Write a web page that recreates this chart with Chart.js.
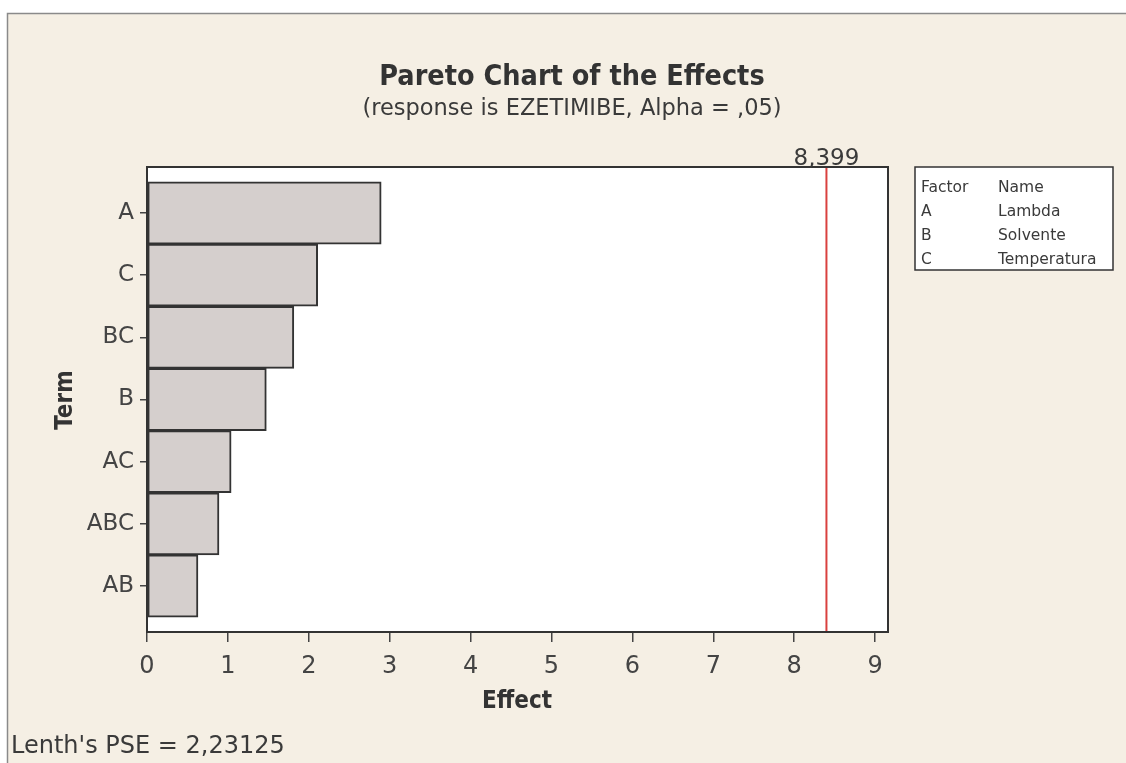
<!DOCTYPE html>
<html><head><meta charset="utf-8">
<script src="https://cdn.jsdelivr.net/npm/chart.js@4.4.0/dist/chart.umd.min.js"></script>
<style>html,body{margin:0;padding:0;background:#fff;}canvas{display:block}</style>
</head><body>
<canvas id="c" width="1126" height="763"></canvas>
<script>
// Standardized effects, sorted largest first
const terms = ['A', 'C', 'BC', 'B', 'AC', 'ABC', 'AB'];
const effects = [2.895, 2.11, 1.815, 1.475, 1.04, 0.89, 0.63];
const effectTicks = [0, 1, 2, 3, 4, 5, 6, 7, 8, 9];
const criticalEffect = 8.399;
const criticalLabel = '8,399';
const factorCodes = ['A', 'B', 'C'];
const factorNames = ['Lambda', 'Solvente', 'Temperatura'];
const lenthText = "Lenth's PSE = 2,23125";

const FONT = "'DejaVu Sans', sans-serif";
const FONT_BOLD = "'DejaVu Sans Condensed', 'DejaVu Sans', sans-serif";
const INK = '#3a3a3a';

const frame = {
  id: 'frame',
  beforeDraw(chart) {
    const { ctx, width, height, chartArea: a } = chart;
    ctx.save();
    ctx.fillStyle = '#ffffff';
    ctx.fillRect(0, 0, width, height);
    ctx.fillStyle = '#f5efe4';
    ctx.fillRect(7, 13, width - 7, height - 13);
    ctx.strokeStyle = '#8a8a8a';
    ctx.lineWidth = 1.5;
    ctx.beginPath();
    ctx.moveTo(7.5, height);
    ctx.lineTo(7.5, 13.5);
    ctx.lineTo(width, 13.5);
    ctx.stroke();
    ctx.fillStyle = '#ffffff';
    ctx.fillRect(a.left, a.top, a.right - a.left, a.bottom - a.top);
    ctx.restore();
  },
  afterDatasetsDraw(chart) {
    const { ctx, chartArea: a, scales } = chart;
    ctx.save();
    // critical effect reference line
    const xc = scales.x.getPixelForValue(criticalEffect);
    ctx.strokeStyle = '#d9413f';
    ctx.lineWidth = 2;
    ctx.beginPath();
    ctx.moveTo(xc, a.top);
    ctx.lineTo(xc, a.bottom);
    ctx.stroke();
    // plot border
    ctx.strokeStyle = '#333333';
    ctx.lineWidth = 2;
    ctx.strokeRect(a.left, a.top, a.right - a.left, a.bottom - a.top);

    ctx.fillStyle = INK;
    ctx.textAlign = 'center';
    ctx.textBaseline = 'alphabetic';
    ctx.font = '23px ' + FONT;
    ctx.fillText(criticalLabel, xc, a.top - 2);

    // titles
    ctx.font = 'bold 28.5px ' + FONT_BOLD;
    ctx.fillStyle = '#333333';
    ctx.fillText('Pareto Chart of the Effects', 572, 85);
    ctx.font = '22.5px ' + FONT;
    ctx.fillStyle = INK;
    ctx.fillText('(response is EZETIMIBE, Alpha = ,05)', 572, 115);

    // axis titles
    ctx.font = 'bold 24px ' + FONT_BOLD;
    ctx.fillStyle = '#333333';
    ctx.fillText('Effect', 517, 708);
    ctx.save();
    ctx.translate(72, 400);
    ctx.rotate(-Math.PI / 2);
    ctx.fillText('Term', 0, 0);
    ctx.restore();

    // footnote
    ctx.textAlign = 'left';
    ctx.font = '24px ' + FONT;
    ctx.fillStyle = INK;
    ctx.fillText(lenthText, 11, 753);

    // factor key
    ctx.fillStyle = '#ffffff';
    ctx.fillRect(915, 167, 198, 103);
    ctx.strokeStyle = '#333333';
    ctx.lineWidth = 1.5;
    ctx.strokeRect(915, 167, 198, 103);
    ctx.fillStyle = INK;
    ctx.font = '15.5px ' + FONT;
    ctx.fillText('Factor', 921, 192);
    ctx.fillText('Name', 998, 192);
    factorCodes.forEach((code, i) => {
      const y = 216 + i * 24;
      ctx.fillText(code, 921, y);
      ctx.fillText(factorNames[i], 998, y);
    });
    ctx.restore();
  }
};

new Chart(document.getElementById('c'), {
  type: 'bar',
  data: {
    datasets: [{
      data: effects.map((v, i) => ({ x: v, y: i })),
      backgroundColor: '#d5cfcd',
      borderColor: '#333333',
      borderWidth: 2,
      borderSkipped: false,
      barPercentage: 1,
      categoryPercentage: 1
    }]
  },
  options: {
    indexAxis: 'y',
    responsive: false,
    animation: false,
    devicePixelRatio: 1,
    layout: { padding: { top: 167, right: 238, left: 0, bottom: 0 } },
    plugins: { legend: { display: false }, tooltip: { enabled: false }, title: { display: false } },
    scales: {
      x: {
        type: 'linear',
        min: 0,
        max: 9.16,
        afterFit(scale) { scale.height = 131; },
        afterBuildTicks(scale) { scale.ticks = effectTicks.map(v => ({ value: v })); },
        border: { display: false },
        grid: { drawOnChartArea: false, drawTicks: true, tickLength: 10, color: '#444', lineWidth: 1.5 },
        ticks: { color: '#444', font: { family: FONT, size: 24 }, padding: 10, maxRotation: 0,
                 callback: v => String(v) }
      },
      y: {
        type: 'linear',
        reverse: true,
        offset: false,
        min: -0.74,
        max: 6.74,
        afterFit(scale) { scale.width = 147; },
        afterBuildTicks(scale) { scale.ticks = terms.map((t, i) => ({ value: i })); },
        border: { display: false },
        grid: { offset: false, drawOnChartArea: false, drawTicks: true, tickLength: 7, color: '#444', lineWidth: 1.5 },
        ticks: { color: '#444', font: { family: FONT, size: 23 }, padding: 6,
                 callback: v => terms[Math.round(v)] }
      }
    }
  },
  plugins: [frame]
});
</script>
</body></html>
